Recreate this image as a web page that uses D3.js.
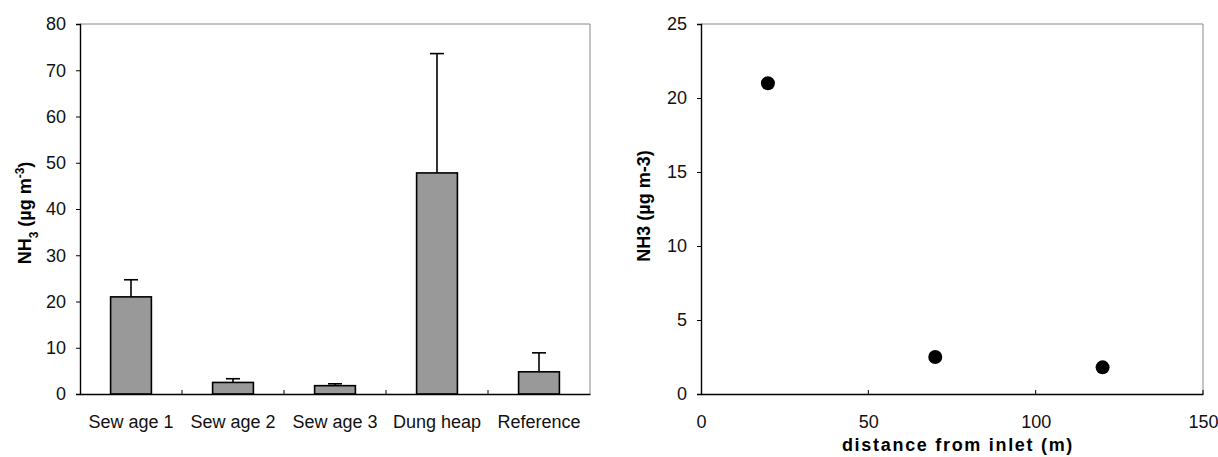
<!DOCTYPE html>
<html>
<head>
<meta charset="utf-8">
<script src="https://cdn.jsdelivr.net/npm/d3@7"></script>
<style>
  body { margin: 0; background: #fff; }
  svg { display: block; font-family: "Liberation Sans", Arial, sans-serif; }
  .tick text { font-size: 18px; fill: #111; }
  .axislabel { font-size: 18px; font-weight: bold; fill: #000; }
</style>
</head>
<body>
<svg id="chart" width="1218" height="457"></svg>
<script>
// NH3 concentration by site (mean and mean + SD)
const sites = ["Sew age 1", "Sew age 2", "Sew age 3", "Dung heap", "Reference"];
const siteMeans = [21.0, 2.5, 1.8, 47.8, 4.8];
const siteUpper = [24.7, 3.3, 2.2, 73.6, 8.9];
const barTicks = [0, 10, 20, 30, 40, 50, 60, 70, 80];

// NH3 concentration along the channel
const distances = [20, 70, 120];
const distanceValues = [21.0, 2.5, 1.8];
const distTicksX = [0, 50, 100, 150];
const distTicksY = [0, 5, 10, 15, 20, 25];

const svg = d3.select("#chart");

// ---------- Left panel: bar chart ----------
const L = { left: 80, right: 590, top: 24, bottom: 394 };
const xBand = d3.scaleBand().domain(sites).range([L.left, L.right]).paddingInner(0.6).paddingOuter(0.3);
const xEdge = d3.scaleBand().domain(sites).range([L.left, L.right]);
const yBar = d3.scaleLinear().domain([0, 80]).range([L.bottom, L.top]);

const gL = svg.append("g");

// frame (top and right)
gL.append("path")
  .attr("d", `M${L.left},${L.top}H${L.right}V${L.bottom}`)
  .attr("fill", "none").attr("stroke", "#888").attr("stroke-width", 1);

// bars
gL.selectAll("rect.bar").data(sites).join("rect")
  .attr("class", "bar")
  .attr("x", d => xBand(d))
  .attr("width", xBand.bandwidth())
  .attr("y", (d, i) => yBar(siteMeans[i]))
  .attr("height", (d, i) => yBar(0) - yBar(siteMeans[i]))
  .attr("fill", "#999999").attr("stroke", "#000").attr("stroke-width", 1.6);

// upper error bars with centred caps
const capHalf = 7;
sites.forEach((s, i) => {
  const cx = xBand(s) + xBand.bandwidth() / 2;
  gL.append("line").attr("x1", cx).attr("x2", cx)
    .attr("y1", yBar(siteMeans[i])).attr("y2", yBar(siteUpper[i]))
    .attr("stroke", "#000").attr("stroke-width", 1.6);
  gL.append("line").attr("x1", cx - capHalf).attr("x2", cx + capHalf)
    .attr("y1", yBar(siteUpper[i])).attr("y2", yBar(siteUpper[i]))
    .attr("stroke", "#000").attr("stroke-width", 1.6);
});

// y axis
const yAxisL = gL.append("g").attr("transform", `translate(${L.left},0)`)
  .call(d3.axisLeft(yBar).tickValues(barTicks).tickSize(4).tickPadding(10).tickFormat(d3.format("d")));
yAxisL.select(".domain").attr("stroke", "#000").attr("stroke-width", 1.4);
yAxisL.selectAll(".tick line").attr("stroke", "#000");

// x axis: category labels, inner ticks at band boundaries
const xAxisL = gL.append("g").attr("transform", `translate(0,${L.bottom})`)
  .call(d3.axisBottom(xEdge).tickSize(0).tickPadding(21));
xAxisL.select(".domain").attr("stroke", "#000").attr("stroke-width", 1.4);
gL.selectAll("line.sep").data(sites.slice(1)).join("line")
  .attr("class", "sep")
  .attr("x1", d => xEdge(d)).attr("x2", d => xEdge(d))
  .attr("y1", L.bottom).attr("y2", L.bottom - 4)
  .attr("stroke", "#000");

// y label with sub/superscripts
const labL = gL.append("text").attr("class", "axislabel")
  .attr("transform", `translate(31,213) rotate(-90)`)
  .attr("text-anchor", "middle");
labL.append("tspan").text("NH");
labL.append("tspan").attr("baseline-shift", "sub").attr("font-size", "12px").text("3");
labL.append("tspan").text(" (µg m");
labL.append("tspan").attr("baseline-shift", "super").attr("font-size", "12px").text("-3");
labL.append("tspan").text(")");

// ---------- Right panel: scatter ----------
const R = { left: 701, right: 1203, top: 24, bottom: 394 };
const xLin = d3.scaleLinear().domain([0, 150]).range([R.left, R.right]);
const yLin = d3.scaleLinear().domain([0, 25]).range([R.bottom, R.top]);

const gR = svg.append("g");

gR.append("path")
  .attr("d", `M${R.left},${R.top}H${R.right}V${R.bottom}`)
  .attr("fill", "none").attr("stroke", "#888").attr("stroke-width", 1);

const yAxisR = gR.append("g").attr("transform", `translate(${R.left},0)`)
  .call(d3.axisLeft(yLin).tickValues(distTicksY).tickSize(4).tickPadding(10).tickFormat(d3.format("d")));
yAxisR.select(".domain").attr("stroke", "#000").attr("stroke-width", 1.4);

const xAxisR = gR.append("g").attr("transform", `translate(0,${R.bottom})`)
  .call(d3.axisBottom(xLin).tickValues(distTicksX).tickSize(0).tickPadding(21).tickFormat(d3.format("d")));
xAxisR.select(".domain").attr("stroke", "#000").attr("stroke-width", 1.4);
gR.selectAll("line.xt").data(distTicksX.slice(1)).join("line")
  .attr("class", "xt")
  .attr("x1", d => xLin(d)).attr("x2", d => xLin(d))
  .attr("y1", R.bottom).attr("y2", R.bottom - 4)
  .attr("stroke", "#000");

gR.selectAll("circle").data(distances).join("circle")
  .attr("cx", d => xLin(d))
  .attr("cy", (d, i) => yLin(distanceValues[i]))
  .attr("r", 7)
  .attr("fill", "#000");

gR.append("text").attr("class", "axislabel")
  .attr("transform", `translate(650,206) rotate(-90)`)
  .attr("text-anchor", "middle")
  .text("NH3 (µg m-3)");

gR.append("text").attr("class", "axislabel")
  .attr("x", 958).attr("y", 451)
  .attr("text-anchor", "middle")
  .style("letter-spacing", "1.7px")
  .text("distance from inlet (m)");
</script>
</body>
</html>
